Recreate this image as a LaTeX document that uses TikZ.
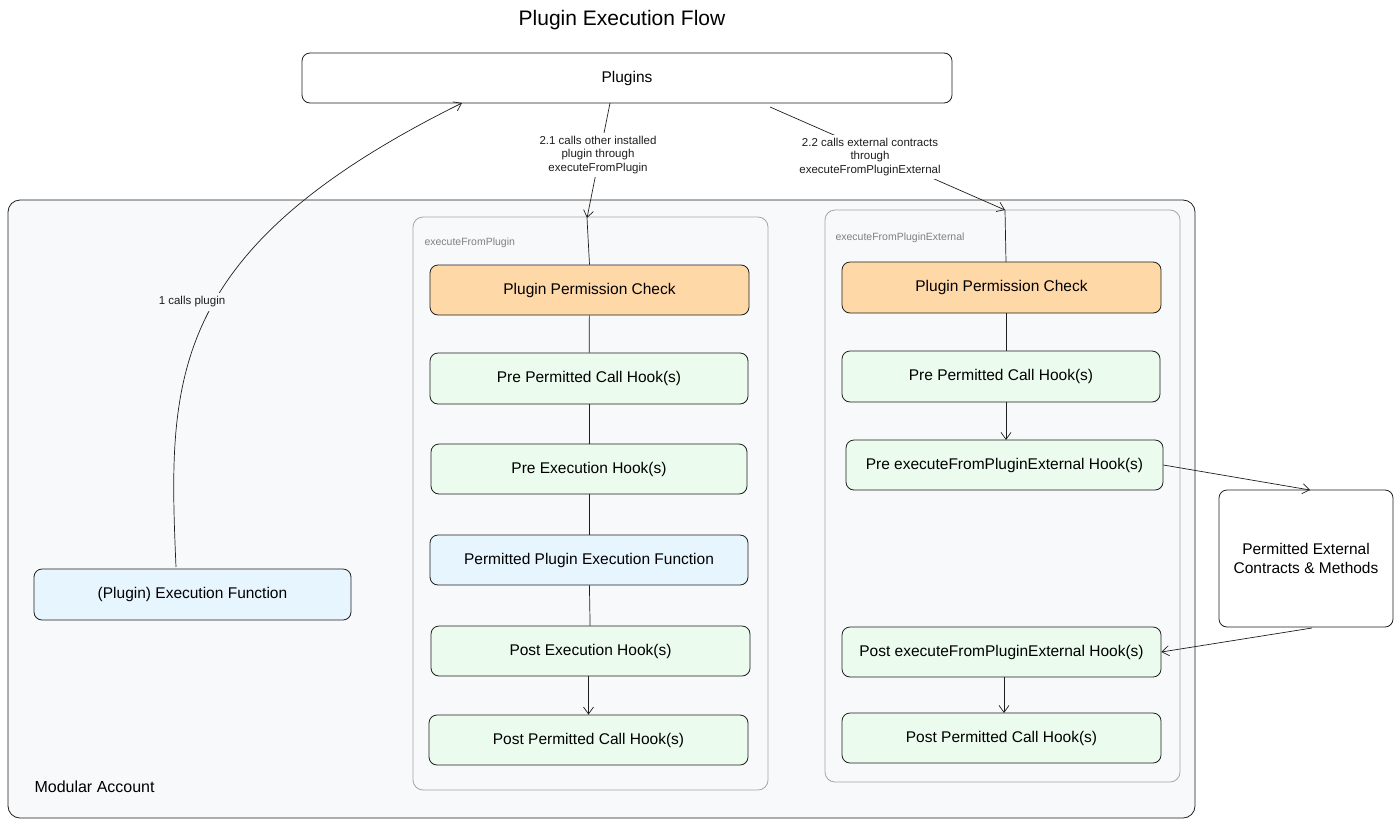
\documentclass[tikz,border=0pt]{standalone}
\usepackage{fontspec}
\setmainfont{Liberation Sans}
\usetikzlibrary{arrows.meta}
\definecolor{orangef}{HTML}{FFD8A8}
\definecolor{greenf}{HTML}{EBFBEE}
\definecolor{bluef}{HTML}{E7F5FF}
\definecolor{bgf}{HTML}{F8F9FA}
\definecolor{edge}{HTML}{1E1E1E}
\begin{document}
\begin{tikzpicture}[x=1pt,y=-1pt,
 box/.style={draw=edge,line width=0.8pt,rounded corners=8pt,font=\fontsize{15.5}{18.5}\selectfont},
 cont/.style={draw=gray!70,line width=0.8pt,rounded corners=10pt},
 lbl/.style={font=\fontsize{11.5}{13.5}\selectfont,align=center,text=edge},
 ln/.style={draw=edge,line width=0.7pt},
 arr/.style={ln,-{Straight Barb[length=7pt,width=10pt]}}]
\useasboundingbox (0,0) rectangle (1400,825);
\node[font=\fontsize{21}{25}\selectfont] (title) at (622,20) {Plugin Execution Flow};
\draw[box,fill=white] (302,53) rectangle (952,103);
\node[font=\fontsize{15.5}{18.5}\selectfont] (plugins) at (627,78) {Plugins};
\draw[draw=edge,line width=0.8pt,rounded corners=12pt,fill=bgf] (8,200) rectangle (1195,818);
\node[anchor=west,font=\fontsize{16}{19}\selectfont] (ma) at (31,787) {Modular Account};
\draw[cont] (413,217) rectangle (768,790);
\node[anchor=west,font=\fontsize{10.5}{12}\selectfont,text=gray] (c1) at (421,243) {executeFromPlugin};
\draw[cont] (825,210) rectangle (1180,782);
\node[anchor=west,font=\fontsize{10.5}{12}\selectfont,text=gray] (c2) at (832,238) {executeFromPluginExternal};
% left column
\node[box,fill=orangef,minimum width=319pt,minimum height=50pt] (l1) at (589.5,290) {Plugin Permission Check};
\node[box,fill=greenf,minimum width=318pt,minimum height=51pt] (l2) at (589,378.5) {Pre Permitted Call Hook(s)};
\node[box,fill=greenf,minimum width=316pt,minimum height=50pt] (l3) at (589,469) {Pre Execution Hook(s)};
\node[box,fill=bluef,minimum width=318pt,minimum height=50pt] (l4) at (589,560) {Permitted Plugin Execution Function};
\node[box,fill=greenf,minimum width=319pt,minimum height=50pt] (l5) at (590.5,651) {Post Execution Hook(s)};
\node[box,fill=greenf,minimum width=319pt,minimum height=50pt] (l6) at (588.5,740) {Post Permitted Call Hook(s)};
% right column
\node[box,fill=orangef,minimum width=319pt,minimum height=51pt] (r1) at (1001.5,287.5) {Plugin Permission Check};
\node[box,fill=greenf,minimum width=318pt,minimum height=51pt] (r2) at (1001,376.5) {Pre Permitted Call Hook(s)};
\node[box,fill=greenf,minimum width=317pt,minimum height=50pt] (r3) at (1004.5,465) {Pre executeFromPluginExternal Hook(s)};
\node[box,fill=greenf,minimum width=319pt,minimum height=50pt] (r4) at (1001.5,652) {Post executeFromPluginExternal Hook(s)};
\node[box,fill=greenf,minimum width=319pt,minimum height=50pt] (r5) at (1001.5,738) {Post Permitted Call Hook(s)};
\node[box,fill=white,minimum width=174pt,minimum height=137pt,align=center] (ext) at (1306,558.5) {Permitted External\\Contracts \& Methods};
\node[box,fill=bluef,minimum width=317pt,minimum height=51pt] (ef) at (192.5,594.5) {(Plugin) Execution Function};
% connectors
\coordinate (p1) at (462,103);
\coordinate (p2) at (610,103);
\coordinate (p3) at (770,107);
\coordinate (t1) at (587,218);
\coordinate (t2) at (1005,210);
\draw[arr] (176,567) .. controls (168,380) and (165,250) .. (p1);
\node[lbl,fill=bgf] (l1lbl) at (192,302) {1 calls plugin};
\draw[arr] (p2) -- (t1);
\node[lbl,fill=white] at (598,155) {2.1 calls other installed\\plugin through\\executeFromPlugin};
\draw[arr] (p3) -- (t2);
\node[lbl,fill=white] at (870,157) {2.2 calls external contracts\\through\\executeFromPluginExternal};
\draw[ln] (t1) -- (l1.north);
\draw[ln] (l1) -- (l2);
\draw[ln] (l2) -- (l3);
\draw[ln] (l3) -- (l4);
\draw[ln] (l4) -- (l5);
\draw[arr] (l5.south -| l6.north) -- (l6.north);
\draw[ln] (t2) -- (1006,262);
\draw[ln] (1006,313) -- (1006,351);
\draw[arr] (1006,402) -- (1006,440);
\draw[arr] (r3.east) -- (1310,490);
\draw[arr] (1312,628) -- (r4.east);
\draw[arr] (1004,677) -- (1004,713);
\end{tikzpicture}
\end{document}
